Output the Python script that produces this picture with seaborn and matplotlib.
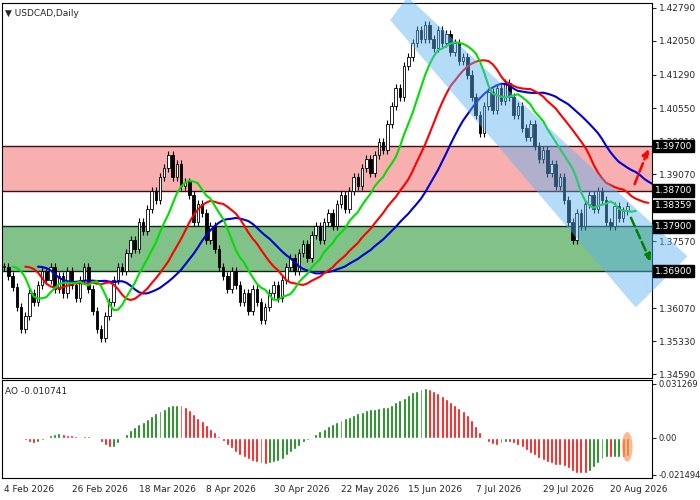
import numpy as np
import pandas as pd
import matplotlib
matplotlib.use("Agg")
import matplotlib.pyplot as plt
import seaborn as sns
from matplotlib.patches import Rectangle, Polygon, Ellipse

sns.set_style("white")
plt.rcParams['font.family'] = ['DejaVu Sans']

# daily closes, USDCAD
closes = [
    1.3700, 1.3680, 1.3655, 1.3610, 1.3560, 1.3590, 1.3640, 1.3620, 1.3660, 1.3690,
    1.3670, 1.3700, 1.3650, 1.3680, 1.3640, 1.3690, 1.3660, 1.3630, 1.3670, 1.3700,
    1.3650, 1.3600, 1.3560, 1.3540, 1.3590, 1.3620, 1.3670, 1.3700, 1.3690, 1.3730,
    1.3760, 1.3740, 1.3800, 1.3780, 1.3830, 1.3870, 1.3850, 1.3900, 1.3920, 1.3950,
    1.3900, 1.3930, 1.3880, 1.3890, 1.3860, 1.3800, 1.3840, 1.3820, 1.3760, 1.3790,
    1.3740, 1.3700, 1.3680, 1.3650, 1.3690, 1.3660, 1.3620, 1.3640, 1.3600, 1.3650,
    1.3620, 1.3580, 1.3610, 1.3640, 1.3660, 1.3630, 1.3670, 1.3700, 1.3720, 1.3690,
    1.3730, 1.3750, 1.3720, 1.3770, 1.3790, 1.3760, 1.3800, 1.3820, 1.3790, 1.3840,
    1.3860, 1.3830, 1.3870, 1.3900, 1.3880, 1.3920, 1.3940, 1.3910, 1.3950, 1.3980,
    1.3960, 1.4020, 1.4060, 1.4100, 1.4080, 1.4150, 1.4170, 1.4200, 1.4230, 1.4210,
    1.4240, 1.4210, 1.4190, 1.4230, 1.4200, 1.4220, 1.4180, 1.4200, 1.4160, 1.4170,
    1.4130, 1.4080, 1.4040, 1.4000, 1.4060, 1.4090, 1.4050, 1.4100, 1.4070, 1.4110,
    1.4080, 1.4040, 1.4060, 1.4010, 1.3990, 1.4020, 1.3970, 1.3940, 1.3960, 1.3910,
    1.3930, 1.3880, 1.3900, 1.3850, 1.3800, 1.3760, 1.3820, 1.3790, 1.3840, 1.3860,
    1.3830, 1.3870, 1.3850, 1.3800, 1.3790, 1.3836, 1.3810, 1.3825, 1.3836,
]
wick = 0.0009

zone_red = (1.3870, 1.3970)
zone_green = (1.3690, 1.3790)
level_labels = [1.39700, 1.38700, 1.38359, 1.37900, 1.36900]
price_ticks = [1.42790, 1.42050, 1.41290, 1.40550, 1.39810, 1.39070,
               1.38330, 1.37570, 1.36830, 1.36070, 1.35330, 1.34590]
ao_ticks = [0.031269, 0.0, -0.021494]
ao_tick_labels = ["0.031269", "0.00", "-0.021494"]
date_labels = ["4 Feb 2026", "26 Feb 2026", "18 Mar 2026", "8 Apr 2026", "30 Apr 2026",
               "22 May 2026", "15 Jun 2026", "7 Jul 2026", "29 Jul 2026", "20 Aug 2026"]
channel = [(91.7, 1.4252), (95.8, 1.4304), (162.3, 1.3723), (150.0, 1.3609)]

c = pd.Series(closes)
o = c.shift(1).fillna(c.iloc[0])
hi = np.maximum(o, c) + wick
lo = np.minimum(o, c) - wick
med = (hi + lo) / 2
n = len(c)
idx = np.arange(n)

def smma(s, p):
    return s.ewm(alpha=1 / p, adjust=False).mean()

jaw = smma(med, 13)
teeth = smma(med, 8)
lips = smma(med, 4)
ao = med.rolling(5, min_periods=1).mean() - med.rolling(34, min_periods=1).mean()

fig = plt.figure(figsize=(7, 5), dpi=100)
ax = fig.add_axes([0.003, 0.245, 0.928, 0.749])
ax2 = fig.add_axes([0.003, 0.044, 0.928, 0.196])
xmax = 153.8
fs = 6.5

ax.axhspan(*zone_red, color="#f47a7a", alpha=0.6, lw=0, zorder=0)
ax.axhspan(*zone_green, color="#2e9a3a", alpha=0.6, lw=0, zorder=0)
for lv in [1.3970, 1.3870, 1.3790, 1.3690]:
    ax.axhline(lv, color="#3a1010" if lv > 1.38 else "#0a2a10", lw=1, zorder=1)

for i in range(n):
    ax.vlines(i, lo[i], hi[i], color="black", lw=0.8, zorder=2)
    up = c[i] >= o[i]
    bot = min(o[i], c[i])
    ax.add_patch(Rectangle((i - 0.3, bot), 0.6, max(abs(c[i] - o[i]), 0.0001),
                           facecolor="white" if up else "black", edgecolor="black",
                           lw=0.6, zorder=3))

ax.plot(idx + 8, jaw, color="#0000d0", lw=1.5, zorder=4)
ax.plot(idx + 5, teeth, color="red", lw=1.5, zorder=4)
ax.plot(idx + 2, lips, color="#00e000", lw=1.5, zorder=4)

ax.add_patch(Polygon(channel, closed=True, facecolor="#5ab0f0", alpha=0.45, lw=0,
                     zorder=5, clip_on=False))
ax.annotate("", xy=(153.3, 1.3969), xytext=(149.5, 1.3879), annotation_clip=False,
            arrowprops=dict(arrowstyle="-|>", ls="--", color="red", lw=1.8), zorder=6)
ax.annotate("", xy=(153.8, 1.3706), xytext=(148.6, 1.3815), annotation_clip=False,
            arrowprops=dict(arrowstyle="-|>", ls="--", color="green", lw=1.8), zorder=6)
ax.add_patch(Ellipse((152.4, 1.3877), 2.5, 0.0045, angle=-20, facecolor="#ff9a40",
                     alpha=0.7, lw=0, zorder=6, clip_on=False))

ax.set_xlim(-0.5, xmax)
ax.set_ylim(1.3452, 1.4290)
ax.yaxis.tick_right()
ax.set_yticks(price_ticks)
ax.set_yticklabels([f"{t:.5f}" for t in price_ticks], fontsize=fs)
ax.set_xticks([])
ax.tick_params(axis="y", length=3, pad=2)
for lv in level_labels:
    ax.text(1.005, (lv - 1.3452) / (1.4290 - 1.3452), f"{lv:.5f}", transform=ax.transAxes,
            fontsize=fs, color="white", va="center", ha="left", zorder=10,
            bbox=dict(boxstyle="square,pad=0.2", fc="black", ec="black"))
ax.text(0.005, 0.985, "▼ USDCAD,Daily", transform=ax.transAxes, fontsize=fs, va="top")

cols = ["green" if i == 0 or ao[i] >= ao[i - 1] else "red" for i in range(n)]
ax2.bar(idx, ao, width=0.7, color=cols)
ax2.add_patch(Ellipse((n - 1, ao.iloc[-1] / 2), 2.5, abs(ao.iloc[-1]) * 1.6,
                      facecolor="#ff9a60", alpha=0.7, lw=0))
ax2.set_xlim(-0.5, xmax)
ax2.set_ylim(-0.0235, 0.0335)
ax2.yaxis.tick_right()
ax2.set_yticks(ao_ticks)
ax2.set_yticklabels(ao_tick_labels, fontsize=6)
ax2.set_xticks(np.arange(0, 16 * len(date_labels), 16))
ax2.set_xticklabels(date_labels, fontsize=fs)
for lab in ax2.get_xticklabels():
    lab.set_horizontalalignment("left")
ax2.tick_params(length=3, pad=2)
ax2.text(0.005, 0.93, f"AO {ao.iloc[-1]:.6f}", transform=ax2.transAxes, fontsize=fs, va="top")

for a in (ax, ax2):
    for s in a.spines.values():
        s.set_color("black")
        s.set_linewidth(0.8)

fig.savefig("out.png", dpi=100)
